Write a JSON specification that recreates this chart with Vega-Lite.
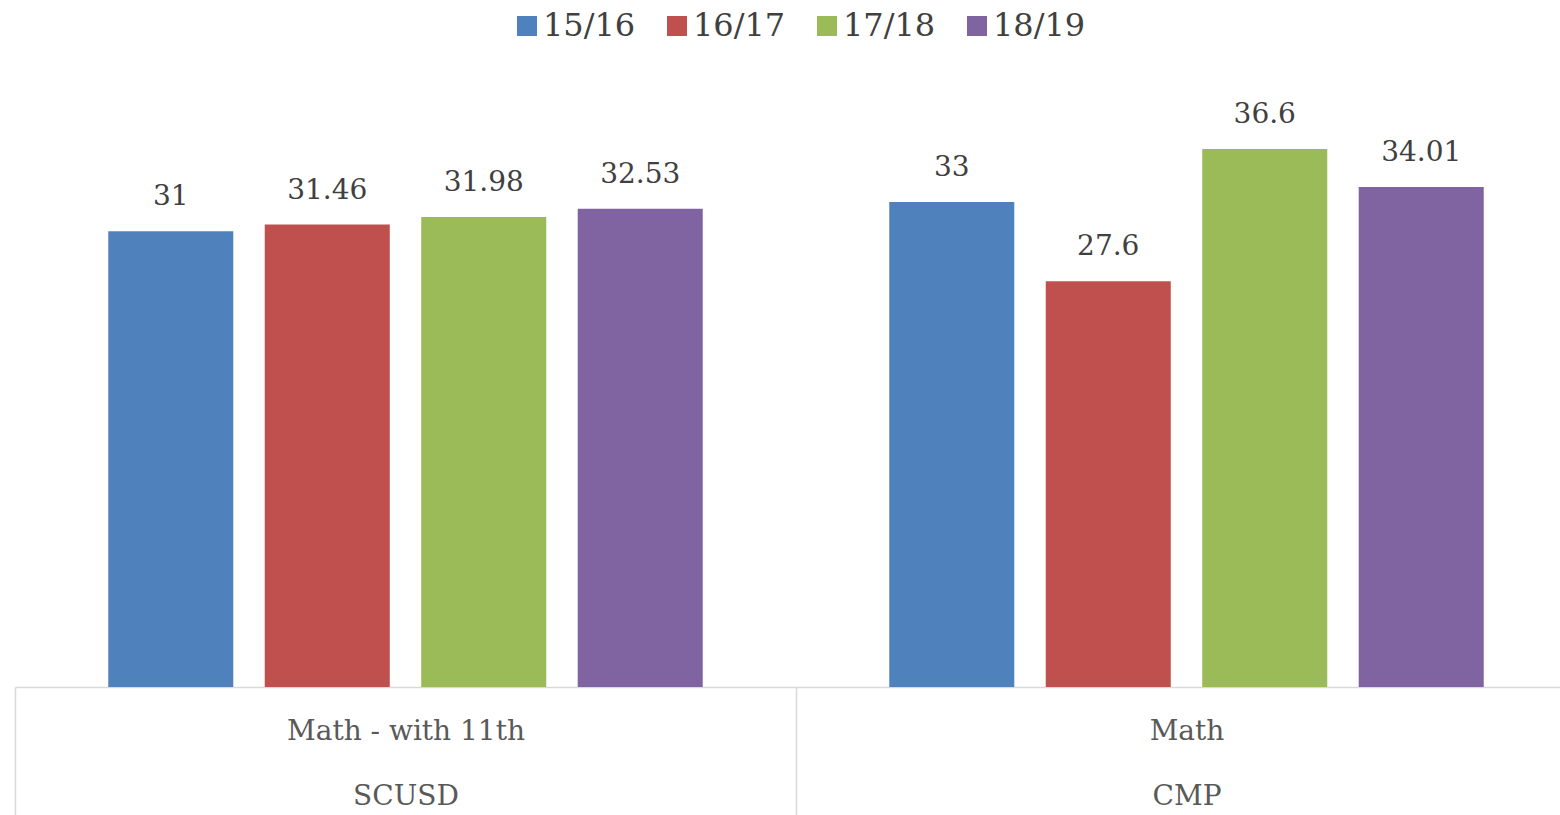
{
  "$schema": "https://vega.github.io/schema/vega-lite/v6.json",
  "autosize": {"type": "none"},
  "width": 1545,
  "height": 588,
  "padding": {"left": 15, "top": 99, "right": 0, "bottom": 128},
  "background": "white",
  "config": {"view": {"stroke": null}},
  "data": {
    "values": [
      {"cat": "Math - with 11th|SCUSD", "year": "15/16", "value": 31},
      {"cat": "Math - with 11th|SCUSD", "year": "16/17", "value": 31.46},
      {"cat": "Math - with 11th|SCUSD", "year": "17/18", "value": 31.98},
      {"cat": "Math - with 11th|SCUSD", "year": "18/19", "value": 32.53},
      {"cat": "Math|CMP", "year": "15/16", "value": 33},
      {"cat": "Math|CMP", "year": "16/17", "value": 27.6},
      {"cat": "Math|CMP", "year": "17/18", "value": 36.6},
      {"cat": "Math|CMP", "year": "18/19", "value": 34.01}
    ]
  },
  "encoding": {
    "x": {
      "field": "cat",
      "type": "nominal",
      "sort": null,
      "scale": {"range": [0, 1562], "paddingInner": 0, "paddingOuter": 0},
      "axis": {
        "title": null,
        "labelAngle": 0,
        "labelExpr": "split(datum.label, '|')",
        "labelFont": "DejaVu Serif",
        "labelFontSize": 28,
        "labelColor": "#595959",
        "labelLineHeight": 65,
        "labelBaseline": "middle",
        "labelPadding": -86,
        "labelLimit": 0,
        "labelOverlap": false,
        "tickBand": "extent",
        "tickSize": 130,
        "tickColor": "#d9d9d9",
        "tickWidth": 1.5,
        "domainColor": "#d9d9d9",
        "domainWidth": 1.5
      }
    },
    "xOffset": {
      "field": "year",
      "type": "nominal",
      "scale": {"paddingInner": 0.201, "paddingOuter": 0.596}
    },
    "y": {
      "field": "value",
      "type": "quantitative",
      "scale": {"domain": [0, 40], "nice": false},
      "axis": null
    }
  },
  "layer": [
    {
      "mark": {"type": "bar"},
      "encoding": {
        "color": {
          "field": "year",
          "type": "nominal",
          "scale": {"range": ["#4F81BD", "#C0504D", "#9BBB59", "#8064A2"]},
          "legend": {
            "title": null,
            "orient": "none",
            "direction": "horizontal",
            "legendX": 496,
            "legendY": -89,
            "padding": 0,
            "symbolType": "square",
            "symbolSize": 400,
            "symbolStrokeWidth": 0,
            "symbolOpacity": 1,
            "labelFont": "DejaVu Serif",
            "labelFontSize": 32,
            "labelColor": "#404040",
            "labelOffset": 0,
            "columnPadding": 25
          }
        }
      }
    },
    {
      "mark": {"type": "text", "baseline": "alphabetic", "dy": -26, "font": "DejaVu Serif", "fontSize": 28, "color": "#404040"},
      "encoding": {
        "text": {"field": "value", "type": "nominal"}
      }
    }
  ]
}
